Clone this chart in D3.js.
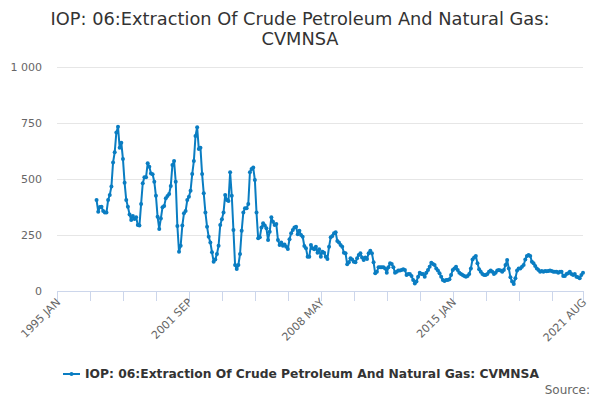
<!DOCTYPE html>
<html>
<head>
<meta charset="utf-8">
<script src="https://cdn.jsdelivr.net/npm/d3@7"></script>
<style>
  body { margin: 0; background: #fff; }
  svg { display: block; font-family: "DejaVu Sans", sans-serif; }
</style>
</head>
<body>
<svg id="chart" width="600" height="400"></svg>
<script>
// series: monthly index, first value 1997 JAN
const seriesName = "IOP: 06:Extraction Of Crude Petroleum And Natural Gas: CVMNSA";
const firstMonth = { year: 1997, month: 0 };
const values = [
  406, 354, 375, 376, 357, 351, 350, 406, 429, 466, 574, 619,
  708, 733, 640, 662, 589, 483, 406, 376, 342, 317, 335, 321,
  329, 295, 292, 388, 481, 508, 508, 570, 555, 525, 521, 488,
  425, 332, 277, 324, 374, 379, 414, 424, 433, 469, 563, 580,
  488, 290, 175, 202, 292, 347, 357, 406, 421, 448, 522, 580,
  692, 731, 634, 640, 522, 436, 351, 287, 242, 217, 173, 131,
  141, 165, 202, 295, 320, 351, 429, 406, 402, 530, 425, 272,
  116, 98, 116, 165, 269, 351, 369, 369, 388, 530, 545, 551,
  496, 350, 235, 240, 283, 302, 292, 280, 228, 265, 329, 309,
  295, 299, 228, 205, 217, 202, 208, 198, 187, 231, 258, 272,
  283, 287, 253, 269, 250, 242, 201, 191, 153, 153, 205, 191,
  186, 198, 171, 186, 153, 175, 171, 153, 143, 198, 240, 246,
  258, 262, 223, 216, 205, 198, 171, 168, 119, 128, 146, 141,
  131, 128, 146, 161, 168, 149, 138, 149, 143, 168, 180, 168,
  128, 79, 86, 106, 106, 106, 106, 101, 82, 106, 124, 121,
  106, 82, 86, 91, 91, 94, 97, 94, 71, 76, 76, 67,
  49, 34, 42, 64, 82, 76, 76, 64, 82, 94, 108, 126,
  121, 116, 101, 91, 79, 64, 49, 45, 49, 49, 52, 71,
  94, 101, 108, 94, 82, 76, 71, 67, 64, 67, 76, 101,
  141, 150, 156, 124, 97, 86, 76, 71, 71, 76, 86, 91,
  86, 76, 82, 91, 94, 91, 86, 94, 116, 138, 101, 61,
  42, 31, 57, 91, 101, 101, 108, 116, 141, 156, 161, 156,
  131, 124, 112, 101, 94, 86, 89, 86, 89, 88, 89, 91,
  89, 86, 86, 86, 82, 86, 86, 67, 67, 76, 79, 86,
  76, 71, 76, 64, 61, 57, 71, 82
];

// x axis: months counted from 1995 JAN
const axisStart = { year: 1995, month: 0 };
const axisMonths = 319; // 1995 JAN .. 2021 AUG
const tickMonths = [0, 20, 40, 60, 80, 100, 120, 140, 160, 180, 200, 220, 240, 260, 280, 300, 319];
const tickLabels = ["1995 JAN", "2001 SEP", "2008 MAY", "2015 JAN", "2021 AUG"];
const labelMonths = [0, 80, 160, 240, 319];
const yTicks = [0, 250, 500, 750, 1000];

const svg = d3.select("#chart");
const plotLeft = 57, plotRight = 583, plotTop = 67, plotBottom = 291;

const offset = (firstMonth.year - axisStart.year) * 12 + (firstMonth.month - axisStart.month);
const data = values.map((v, i) => ({ m: offset + i, v }));

const x = d3.scaleLinear().domain([0, axisMonths]).range([plotLeft, plotRight]);
const y = d3.scaleLinear().domain([0, 1000]).range([plotBottom, plotTop]);

// title
svg.append("text")
  .attr("x", 300).attr("y", 25)
  .attr("text-anchor", "middle")
  .style("font-size", "17.8px")
  .style("fill", "#333")
  .text("IOP: 06:Extraction Of Crude Petroleum And Natural Gas:");
svg.append("text")
  .attr("x", 300).attr("y", 44.5)
  .attr("text-anchor", "middle")
  .style("font-size", "17.8px")
  .style("fill", "#333")
  .text("CVMNSA");

// gridlines + y labels
const fmt = (d) => d3.format(",")(d).replace(/,/g, " ");
svg.append("g")
  .selectAll("line")
  .data(yTicks.filter((d) => d > 0))
  .join("line")
  .attr("x1", plotLeft).attr("x2", plotRight)
  .attr("y1", (d) => Math.round(y(d)) + 0.5)
  .attr("y2", (d) => Math.round(y(d)) + 0.5)
  .attr("stroke", "#e6e6e6");

svg.append("g")
  .selectAll("text")
  .data(yTicks)
  .join("text")
  .attr("x", 42)
  .attr("y", (d) => y(d) + 4)
  .attr("text-anchor", "end")
  .style("font-size", "11px")
  .style("fill", "#666")
  .text(fmt);

// x axis
svg.append("line")
  .attr("x1", plotLeft).attr("x2", plotRight)
  .attr("y1", plotBottom + 0.5).attr("y2", plotBottom + 0.5)
  .attr("stroke", "#ccd6eb");

svg.append("g")
  .selectAll("line")
  .data(tickMonths)
  .join("line")
  .attr("x1", (d) => Math.round(x(d)) + 0.5)
  .attr("x2", (d) => Math.round(x(d)) + 0.5)
  .attr("y1", plotBottom).attr("y2", plotBottom + 10)
  .attr("stroke", "#ccd6eb");

svg.append("g")
  .selectAll("text")
  .data(labelMonths)
  .join("text")
  .attr("transform", (d) => `translate(${x(d) + 4},${plotBottom + 12}) rotate(-45)`)
  .attr("text-anchor", "end")
  .style("font-size", "11px")
  .style("fill", "#666")
  .text((d, i) => tickLabels[i]);

// series
const color = "#0a7dc2";
const line = d3.line().x((d) => x(d.m)).y((d) => y(d.v));

svg.append("path")
  .datum(data)
  .attr("d", line)
  .attr("fill", "none")
  .attr("stroke", color)
  .attr("stroke-width", 2)
  .attr("stroke-linejoin", "round");

svg.append("g")
  .selectAll("circle")
  .data(data)
  .join("circle")
  .attr("cx", (d) => x(d.m))
  .attr("cy", (d) => y(d.v))
  .attr("r", 2)
  .attr("fill", color);

// legend
const lg = svg.append("g").attr("transform", "translate(63,374)");
lg.append("line")
  .attr("x1", 0).attr("x2", 17)
  .attr("stroke", color).attr("stroke-width", 2);
lg.append("circle").attr("cx", 8.5).attr("r", 2).attr("fill", color);
lg.append("text")
  .attr("x", 22).attr("y", 4)
  .style("font-size", "12.3px")
  .style("font-weight", "bold")
  .style("fill", "#333")
  .text(seriesName);

svg.append("text")
  .attr("x", 590).attr("y", 394)
  .attr("text-anchor", "end")
  .style("font-size", "12px")
  .style("fill", "#666")
  .text("Source:");
</script>
</body>
</html>
